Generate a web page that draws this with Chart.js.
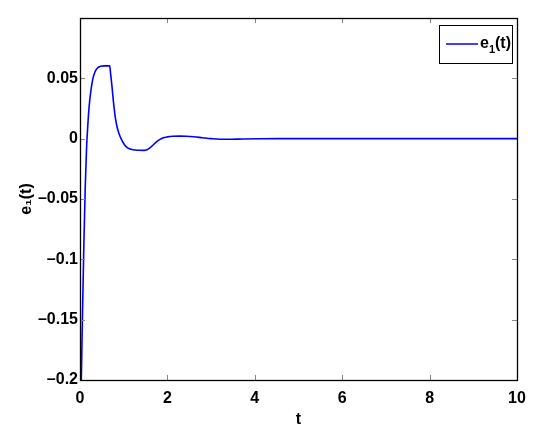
<!DOCTYPE html>
<html><head><meta charset="utf-8">
<script src="https://cdn.jsdelivr.net/npm/chart.js@4/dist/chart.umd.min.js"></script>
<style>html,body{margin:0;padding:0;background:#fff}#wrap{width:542px;height:430px}</style>
</head><body><div id="wrap"><canvas id="c" width="542" height="430"></canvas></div>
<script>
const tValues = [0,0.03,0.06,0.09,0.12,0.15,0.18,0.21,0.25,0.29,0.34,0.4,0.47,0.55,0.68,0.7,0.73,0.77,0.81,0.85,0.89,0.94,1.0,1.06,1.13,1.21,1.34,1.47,1.53,1.59,1.665,1.743,1.82,1.894,2.0,2.124,2.28,2.43,2.6,2.8,3.0,3.2,3.45,3.72,4.1,4.6,5,6,7,8,9,10];
const e1Values = [-0.26,-0.2,-0.14,-0.085,-0.04,-0.008,0.012,0.027,0.04,0.049,0.055,0.0585,0.06,0.0603,0.0603,0.054,0.044,0.029,0.017,0.0095,0.0045,0.0,-0.004,-0.0068,-0.0084,-0.0092,-0.0096,-0.0097,-0.0092,-0.0079,-0.0055,-0.0028,-0.0008,0.0006,0.0015,0.002,0.0021,0.002,0.0016,0.0008,0.0,-0.0005,-0.0005,-0.0003,-0.0001,0,0,0,0,0,0,0];
const xTicks = [0,2,4,6,8,10];
const yTicks = [-0.2,-0.15,-0.1,-0.05,0,0.05];
const seriesLabel = 'e₁(t)';
const xTitle = 't';
const yTitle = 'e₁(t)';

const FONT = '"Liberation Sans Narrow", "Liberation Sans", Arial, sans-serif';
const fmt = v => { if (Math.abs(v) < 1e-9) return '0'; const s = String(+v.toFixed(2)); return s.replace('-', '\u2013'); };

const boxPlugin = {
  id: 'box',
  afterDraw(chart) {
    const {ctx, chartArea: a, scales} = chart;
    ctx.save();
    ctx.strokeStyle = '#888';
    ctx.lineWidth = 1;
    const L = 5;
    xTicks.forEach(v => {
      const x = Math.round(scales.x.getPixelForValue(v)) + 0.5;
      if (v === 0 || v === 10) return;
      ctx.beginPath(); ctx.moveTo(x, a.bottom); ctx.lineTo(x, a.bottom - L); ctx.stroke();
      ctx.beginPath(); ctx.moveTo(x, a.top); ctx.lineTo(x, a.top + L); ctx.stroke();
    });
    yTicks.forEach(v => {
      const y = Math.round(scales.y.getPixelForValue(v)) + 0.5;
      if (v === -0.2) return;
      ctx.beginPath(); ctx.moveTo(a.left, y); ctx.lineTo(a.left + L, y); ctx.stroke();
      ctx.beginPath(); ctx.moveTo(a.right, y); ctx.lineTo(a.right - L, y); ctx.stroke();
    });
    ctx.strokeStyle = '#000';
    ctx.lineWidth = 1.3;
    ctx.strokeRect(a.left + 0.5, a.top + 0.5, a.right - a.left, a.bottom - a.top);
    // legend
    const bx = 439.5, by = 25.5, bw = 73, bh = 38;
    ctx.fillStyle = '#fff';
    ctx.fillRect(bx, by, bw, bh);
    ctx.lineWidth = 1;
    ctx.strokeStyle = '#000';
    ctx.strokeRect(bx, by, bw, bh);
    ctx.strokeStyle = '#0000ff';
    ctx.lineWidth = 1.5;
    ctx.beginPath(); ctx.moveTo(446, 44); ctx.lineTo(478, 44); ctx.stroke();
    ctx.fillStyle = '#000';
    ctx.textBaseline = 'alphabetic';
    ctx.textAlign = 'left';
    const lab = chart.data.datasets[0].label; // e₁(t)
    const base = lab.replace('₁', '');
    let x = 480;
    ctx.font = 'bold 16px ' + FONT;
    ctx.fillText(base[0], x, 48); x += ctx.measureText(base[0]).width;
    ctx.font = 'bold 11px ' + FONT;
    ctx.fillText('1', x, 53); x += ctx.measureText('1').width;
    ctx.font = 'bold 16px ' + FONT;
    ctx.fillText(base.slice(1), x, 48);
    ctx.restore();
  }
};

new Chart(document.getElementById('c'), {
  type: 'line',
  data: {
    datasets: [{
      label: seriesLabel,
      data: tValues.map((t, i) => ({x: t, y: e1Values[i]})),
      borderColor: '#0000ff',
      borderWidth: 1.6,
      pointRadius: 0,
      fill: false,
      cubicInterpolationMode: 'monotone'
    }]
  },
  options: {
    responsive: false,
    animation: false,
    layout: {padding: {left: 0, right: 25, top: 18, bottom: 0}},
    plugins: {legend: {display: false}, tooltip: {enabled: false}},
    scales: {
      x: {
        type: 'linear', min: 0, max: 10,
        afterBuildTicks: s => { s.ticks = xTicks.map(v => ({value: v})); },
        afterFit: s => { s.height = 50; },
        grid: {display: false, drawTicks: false},
        border: {display: false},
        ticks: {color: '#000', font: {family: FONT, size: 16, weight: 'bold'}, padding: 9, maxRotation: 0, callback: v => fmt(v)},
        title: {display: true, text: xTitle, color: '#000', font: {family: FONT, size: 16, weight: 'bold'}, padding: {top: 0, bottom: 1}}
      },
      y: {
        min: -0.2, max: 0.1,
        afterBuildTicks: s => { s.ticks = yTicks.map(v => ({value: v})); },
        afterFit: s => { s.width = 80; },
        grid: {display: false, drawTicks: false},
        border: {display: false},
        ticks: {color: '#000', font: {family: FONT, size: 16, weight: 'bold'}, padding: 2, callback: v => fmt(v)},
        title: {display: true, text: yTitle, color: '#000', font: {family: FONT, size: 16, weight: 'bold'}, padding: {top: 17, bottom: 0}}
      }
    }
  },
  plugins: [boxPlugin]
});
</script></body></html>
